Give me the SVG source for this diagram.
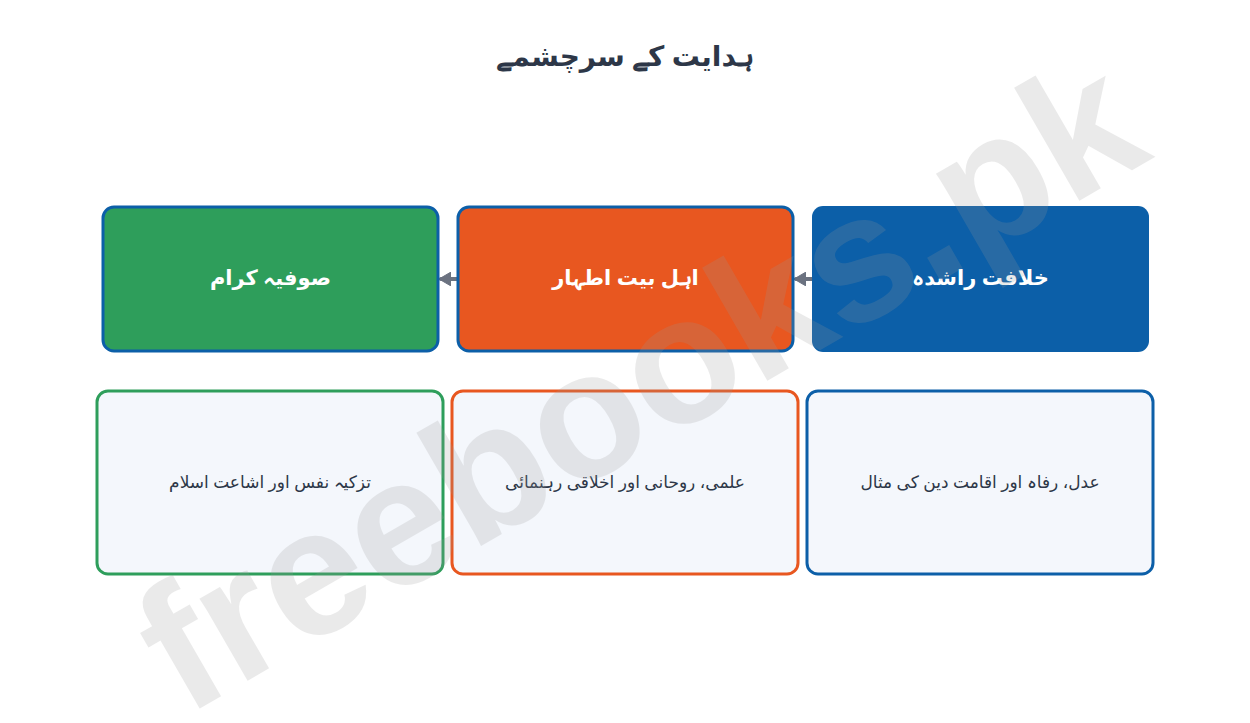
<svg xmlns="http://www.w3.org/2000/svg" width="1250" height="723" viewBox="0 0 1250 723">
<style>
  text { font-family: "Noto Sans", "DejaVu Sans", sans-serif; direction: rtl; unicode-bidi: embed; }
  .title { font-size: 28px; font-weight: bold; fill: #2d3748; }
  .head { font-size: 21px; font-weight: bold; fill: #ffffff; }
  .desc { font-size: 17px; fill: #2d3748; }
  .card { fill: #f4f7fc; stroke-width: 3; }
  .conn { stroke: #6b7280; stroke-width: 4; fill: none; stroke-linecap: round; }
  .wm { font-family: "Liberation Sans", "DejaVu Sans", sans-serif; font-size: 180px; font-weight: bold; fill: #999999; opacity: 0.2; direction: ltr; }
</style>
<defs>
  <marker id="arr" markerWidth="12" markerHeight="14" refX="10" refY="7" orient="auto" markerUnits="userSpaceOnUse">
    <path d="M0,0 L12,7 L0,14 z" fill="#6b7280" stroke="#6b7280" stroke-width="1" stroke-linejoin="round"/>
  </marker>
</defs>
<rect width="1250" height="723" fill="#ffffff"/>
<text class="title" x="625" y="66" text-anchor="middle">ہدایت کے سرچشمے</text>

<g id="connectors">
  <line class="conn" x1="814" y1="279" x2="796" y2="279" marker-end="url(#arr)"/>
  <line class="conn" x1="459" y1="279" x2="441" y2="279" marker-end="url(#arr)"/>
</g>

<g id="node-khilafat">
  <rect x="812" y="206" width="337" height="146" rx="11" fill="#0c5fa8"/>
  <text class="head" x="980.5" y="285" text-anchor="middle">خلافت راشدہ</text>
</g>
<g id="node-ahlebait">
  <rect x="458" y="207" width="335" height="144" rx="11" fill="#e85720" stroke="#0c5fa8" stroke-width="3"/>
  <text class="head" x="625.5" y="285" text-anchor="middle">اہل بیت اطہار</text>
</g>
<g id="node-sufia">
  <rect x="103" y="207" width="335" height="144" rx="11" fill="#2e9e5b" stroke="#0c5fa8" stroke-width="3"/>
  <text class="head" x="270.5" y="285" text-anchor="middle">صوفیہ کرام</text>
</g>

<g id="desc-khilafat">
  <rect class="card" x="807" y="391" width="346" height="183" rx="11" stroke="#0c5fa8"/>
  <text class="desc" x="980" y="488" text-anchor="middle">عدل، رفاہ اور اقامت دین کی مثال</text>
</g>
<g id="desc-ahlebait">
  <rect class="card" x="452" y="391" width="346" height="183" rx="11" stroke="#e85720"/>
  <text class="desc" x="625" y="488" text-anchor="middle">علمی، روحانی اور اخلاقی رہنمائی</text>
</g>
<g id="desc-sufia">
  <rect class="card" x="97" y="391" width="346" height="183" rx="11" stroke="#2e9e5b"/>
  <text class="desc" x="270" y="488" text-anchor="middle">تزکیہ نفس اور اشاعت اسلام</text>
</g>

<text class="wm" x="640" y="445" text-anchor="middle" transform="rotate(-30 640 385)">freebooks.pk</text>
</svg>
